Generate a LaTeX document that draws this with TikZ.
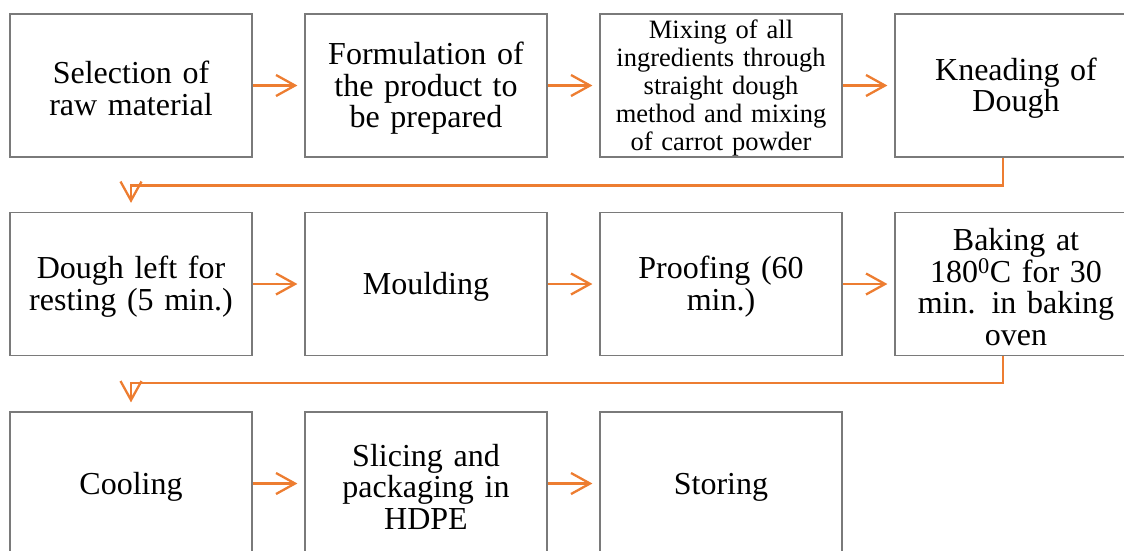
\documentclass[tikz,border=0pt]{standalone}
\usepackage{fontspec}
\setmainfont{Liberation Serif}
\usetikzlibrary{arrows.meta}
\definecolor{flowor}{HTML}{ED7D31}
\definecolor{boxgray}{HTML}{7A7A7A}
\tikzset{
  stepbox/.style={draw=boxgray, line width=1.2pt, minimum width=242pt, minimum height=143pt,
    align=center, inner xsep=2pt, inner ysep=0pt, text width=236pt, font=\fontsize{32pt}{31.5pt}\selectfont,
    execute at begin node={\rule{0pt}{\dimexpr0.69em+6pt\relax}}},
  smalltext/.style={font=\fontsize{26.5pt}{28pt}\selectfont},
  flow/.style={draw=flowor, line width=2.3pt, -{Straight Barb[length=19pt,width=21pt,line width=2.3pt]}},
  hflow/.style={flow, shorten >=7pt}
}
\begin{document}
\begin{tikzpicture}[x=1pt,y=-1pt]
\useasboundingbox (0,0) rectangle (1124,550);
\clip (0,0) rectangle (1124,550);
% row 1
\node[stepbox] (a) at (131,85.5) {Selection of\\raw material};
\node[stepbox] (b) at (426,85.5) {Formulation of\\the product to\\be prepared};
\node[stepbox, smalltext] (c) at (721,85.5) {Mixing of all\\ingredients through\\straight dough\\method and mixing\\of carrot powder};
\node[stepbox] (d) at (1016,85.5) {Kneading of\\Dough};
% row 2
\node[stepbox] (e) at (131,284) {Dough left for\\resting (5 min.)};
\node[stepbox] (f) at (426,284) {Moulding};
\node[stepbox] (g) at (721,284) {Proofing (60\\min.)};
\node[stepbox] (h) at (1016,284) {Baking at\\180\textsuperscript{0}C for 30\\min. in baking\\oven};
% row 3
\node[stepbox] (i) at (131,483.5) {Cooling};
\node[stepbox] (j) at (426,483.5) {Slicing and\\packaging in\\HDPE};
\node[stepbox] (k) at (721,483.5) {Storing};
% horizontal connectors
\draw[hflow] (a.east) -- (b.west);
\draw[hflow] (b.east) -- (c.west);
\draw[hflow] (c.east) -- (d.west);
\draw[hflow] (e.east) -- (f.west);
\draw[hflow] (f.east) -- (g.west);
\draw[hflow] (g.east) -- (h.west);
\draw[hflow] (i.east) -- (j.west);
\draw[hflow] (j.east) -- (k.west);
% row turns
\coordinate (d1) at ([xshift=-13pt]d.south);
\coordinate (h1) at ([xshift=-13pt]h.south);
\draw[flow] (d1) -- ([yshift=-28pt]d1) -| ([yshift=9pt]e.north);
\draw[flow] (h1) -- ([yshift=-27pt]h1) -| ([yshift=9pt]i.north);
\end{tikzpicture}
\end{document}
